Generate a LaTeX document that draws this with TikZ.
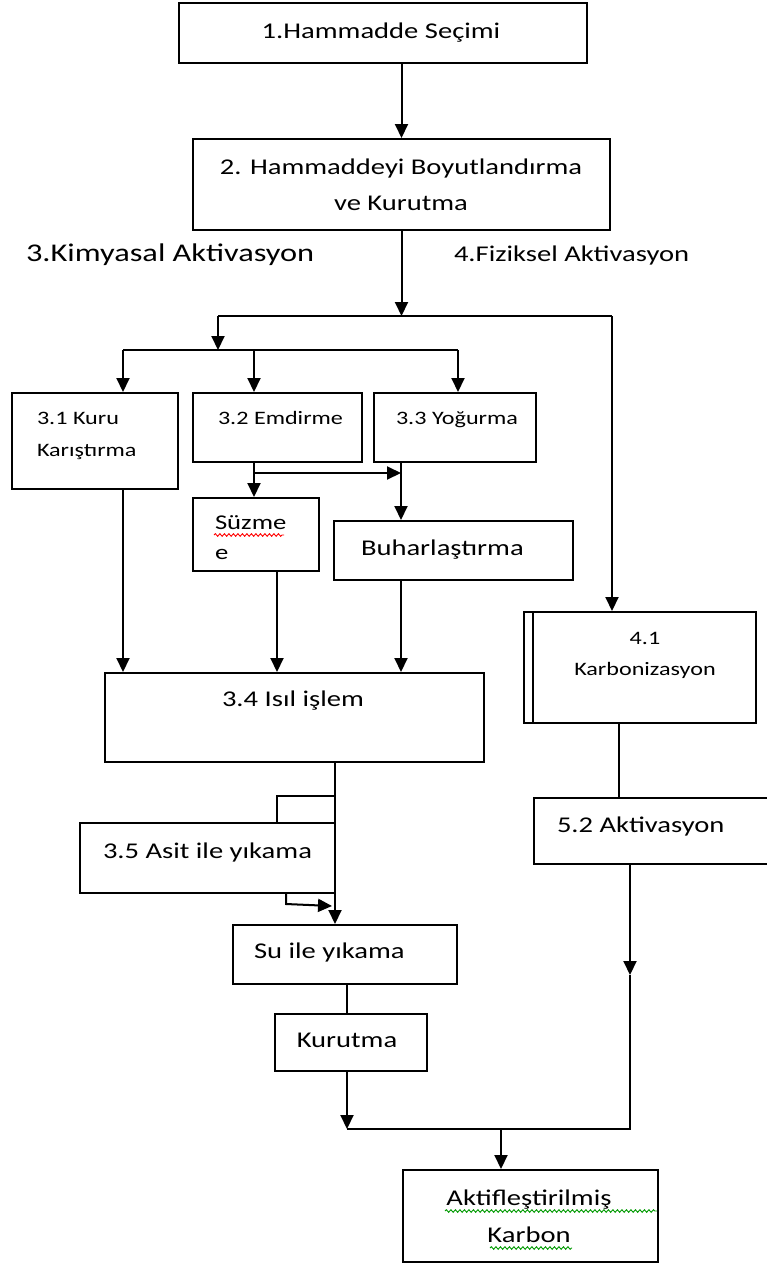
\documentclass[tikz,border=0pt]{standalone}
\usepackage{fontspec}
\setmainfont{Carlito}[FakeStretch=1.27]
\usetikzlibrary{arrows.meta,calc,decorations.pathmorphing}

\begin{document}
\begin{tikzpicture}[
    x=1pt, y=-1pt,
    line width=2pt,
    every node/.style={inner sep=0pt, font=\fontsize{22.5}{27}\selectfont},
    box/.style={draw, rectangle},
    lbl/.style={anchor=base west},
    mid/.style={anchor=base},
    small/.style={font=\fontsize{19}{23}\selectfont},
    arr/.style={-{Triangle[length=14pt,width=13pt]}},
    squig/.style={line width=0.9pt, decorate,
        decoration={snake,amplitude=1.3pt,segment length=4.5pt}}
]

\useasboundingbox (0,0) rectangle (766,1263);

% Hammadde
\node[box, minimum width=408pt, minimum height=60pt] (b1) at (383,33) {};
\node[mid] (t1) at (381,38) {1.Hammadde Seçimi};
\node[box, minimum width=417pt, minimum height=91pt] (b2) at (401.5,184.5) {};
\node[mid] (t2a) at (401,174) {2. Hammaddeyi Boyutlandırma};
\node[mid] (t2b) at (401,210) {ve Kurutma};

\node[lbl, font=\fontsize{25.5}{30}\selectfont] (t3) at (25,261) {3.Kimyasal Aktivasyon};
\node[lbl] (t4) at (453,261) {4.Fiziksel Aktivasyon};

% 3.1 - 3.3
\node[box, minimum width=166pt, minimum height=96pt] (b31) at (95,441) {};
\node[lbl, small] (t31a) at (36,424) {3.1 Kuru};
\node[lbl, small] (t31b) at (36,456) {Karıştırma};
\node[box, minimum width=169pt, minimum height=69pt] (b32) at (277.5,427.5) {};
\node[lbl, small] (t32) at (217,424) {3.2 Emdirme};
\node[box, minimum width=162pt, minimum height=69pt] (b33) at (455,427.5) {};
\node[lbl, small] (t33) at (395,424) {3.3 Yoğurma};

% Suzme, Buharlastirma
\node[box, minimum width=126pt, minimum height=73pt] (bsz) at (256,534.5) {};
\node[lbl, font=\fontsize{21}{25}\selectfont] (tsz) at (214,529) {Süzme};
\node[lbl, font=\fontsize{21}{25}\selectfont] (tsz2) at (214,559) {e};
\draw[red, squig] (214,535) -- (284,535);
\node[box, minimum width=239pt, minimum height=59pt] (bbh) at (453.5,550.5) {};
\node[lbl] (tbh) at (360,555) {Buharlaştırma};

% 4.1, 5.2
\node[box, minimum width=232pt, minimum height=111pt] (b41) at (640,667.5) {};
\draw ($(b41.north west)+(10,0)$) -- ($(b41.south west)+(10,0)$);
\node[mid, small] (t41a) at (645,644) {4.1};
\node[mid, small] (t41b) at (645,675) {Karbonizasyon};
\node[box, minimum width=234pt, minimum height=66pt] (b52) at (651,831) {};
\node[lbl] (t52) at (556,832) {5.2 Aktivasyon};

% 3.4, 3.5
\node[box, minimum width=379pt, minimum height=89pt] (b34) at (294.5,717.5) {};
\node[lbl] (t34) at (221,706) {3.4 Isıl işlem};
\node[box, minimum width=255pt, minimum height=70pt] (b35) at (207.5,858) {};
\node[lbl] (t35) at (102,858) {3.5 Asit ile yıkama};

% Su, Kurutma
\node[box, minimum width=224pt, minimum height=59pt] (bsu) at (345,954.5) {};
\node[lbl] (tsu) at (253,958) {Su ile yıkama};
\node[box, minimum width=152pt, minimum height=57pt] (bku) at (351,1042.5) {};
\node[mid] (tku) at (347,1047) {Kurutma};

% Urun
\node[box, minimum width=255pt, minimum height=92pt] (bak) at (530.5,1216) {};
\node[mid] (tak1) at (529,1205) {Aktifleştirilmiş};
\node[mid] (tak2) at (529,1242) {Karbon};
\draw[green!60!black, squig] (445,1211) -- (657,1211);
\draw[green!60!black, squig] (490,1248) -- (572,1248);

% junctions
\coordinate (j1) at (401.5,316);
\coordinate (jl) at (218,316);
\coordinate (jr) at (612,316);
\coordinate (j2) at (218,350);
\coordinate (k1) at (123,350);
\coordinate (k2) at (254,350);
\coordinate (k3) at (458,350);
\coordinate (k4) at (254,473);
\coordinate (k5) at (401,473);
\coordinate (s1) at (277,571);
\coordinate (p1) at (335,796);
\coordinate (p2) at (286,904);
\coordinate (p3) at (332,906);
\coordinate (x41) at (619,723);
\coordinate (m52) at (630,975);
\coordinate (j3) at (630,1129);
\coordinate (j4) at (347,1129);
\coordinate (j5) at (501,1129);

% Arrows
\draw[arr] (b1.south -| b2.north) -- (b2.north);
\draw[arr] (b2.south) -- (j1);
\draw (jl) -- (jr);
\draw[arr] (jl) -- (j2);
\draw (k1) -- (k3);
\draw[arr] (k1) -- (k1 |- b31.north);
\draw[arr] (k2) -- (k2 |- b32.north);
\draw[arr] (k3) -- (k3 |- b33.north);

\draw[arr] (k2 |- b32.south) -- (k2 |- bsz.north);
\draw[arr] (k4) -- (k5);
\draw[arr] (k5 |- b33.south) -- (k5 |- bbh.north);

\draw[arr] (k1 |- b31.south) -- (k1 |- b34.north);
\draw[arr] (s1) -- (s1 |- b34.north);
\draw[arr] (k5 |- bbh.south) -- (k5 |- b34.north);

\draw[arr] (p1 |- b34.south) -- (p1 |- bsu.north);
\draw (p1) -| (s1 |- b35.north);
\draw[arr] (p2 |- b35.south) -- (p2) -- (p3);
\draw (bsu.south -| j4) -- (bku.north -| j4);
\draw[arr] (bku.south -| j4) -- (j4);

\draw[arr] (jr) -- (jr |- b41.north);
\draw (x41) -- (x41 |- b52.north);
\draw[arr] (m52 |- b52.south) -- (m52);
\draw (m52) -- (j3) -- (j4);
\draw[arr] (j5) -- (j5 |- bak.north);

\end{tikzpicture}
\end{document}
